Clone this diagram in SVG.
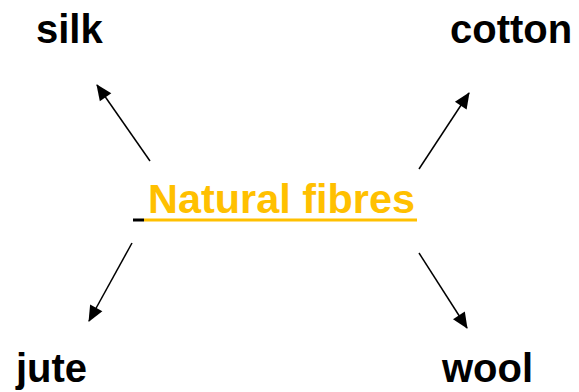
<svg xmlns="http://www.w3.org/2000/svg" width="579" height="392" viewBox="0 0 579 392">
<style>
.lbl{font-family:"Liberation Sans",Arial,sans-serif;font-weight:bold;font-size:40px;fill:#000}
.ttl{font-family:"Liberation Sans",Arial,sans-serif;font-weight:bold;font-size:41px;fill:#FFC000}
.conn{stroke:#000;stroke-width:1.5;fill:none;marker-end:url(#ah)}
</style>
<defs>
<marker id="ah" viewBox="0 0 10 10" refX="9" refY="5" markerWidth="10" markerHeight="10" markerUnits="userSpaceOnUse" orient="auto" overflow="visible">
<path d="M-6,-2 L10,5 L-6,12 Z" fill="#000"/>
</marker>
</defs>
<rect width="579" height="392" fill="#fff"/>
<g id="center">
<text class="ttl" x="148" y="213" textLength="267" lengthAdjust="spacingAndGlyphs">Natural fibres</text>
<rect x="133" y="218.5" width="11" height="3" fill="#000"/>
<rect x="144" y="218.5" width="273" height="3" fill="#FFC000"/>
</g>
<g id="silk"><text class="lbl" x="36" y="43">silk</text></g>
<g id="cotton"><text class="lbl" x="450" y="43">cotton</text></g>
<g id="jute"><text class="lbl" x="16" y="382">jute</text></g>
<g id="wool"><text class="lbl" x="442" y="382">wool</text></g>
<g id="connectors">
<line class="conn" x1="150" y1="161" x2="97" y2="85"/>
<line class="conn" x1="419" y1="169" x2="469" y2="93"/>
<line class="conn" x1="132" y1="243" x2="89" y2="321"/>
<line class="conn" x1="419" y1="253" x2="467" y2="328"/>
</g>
</svg>
